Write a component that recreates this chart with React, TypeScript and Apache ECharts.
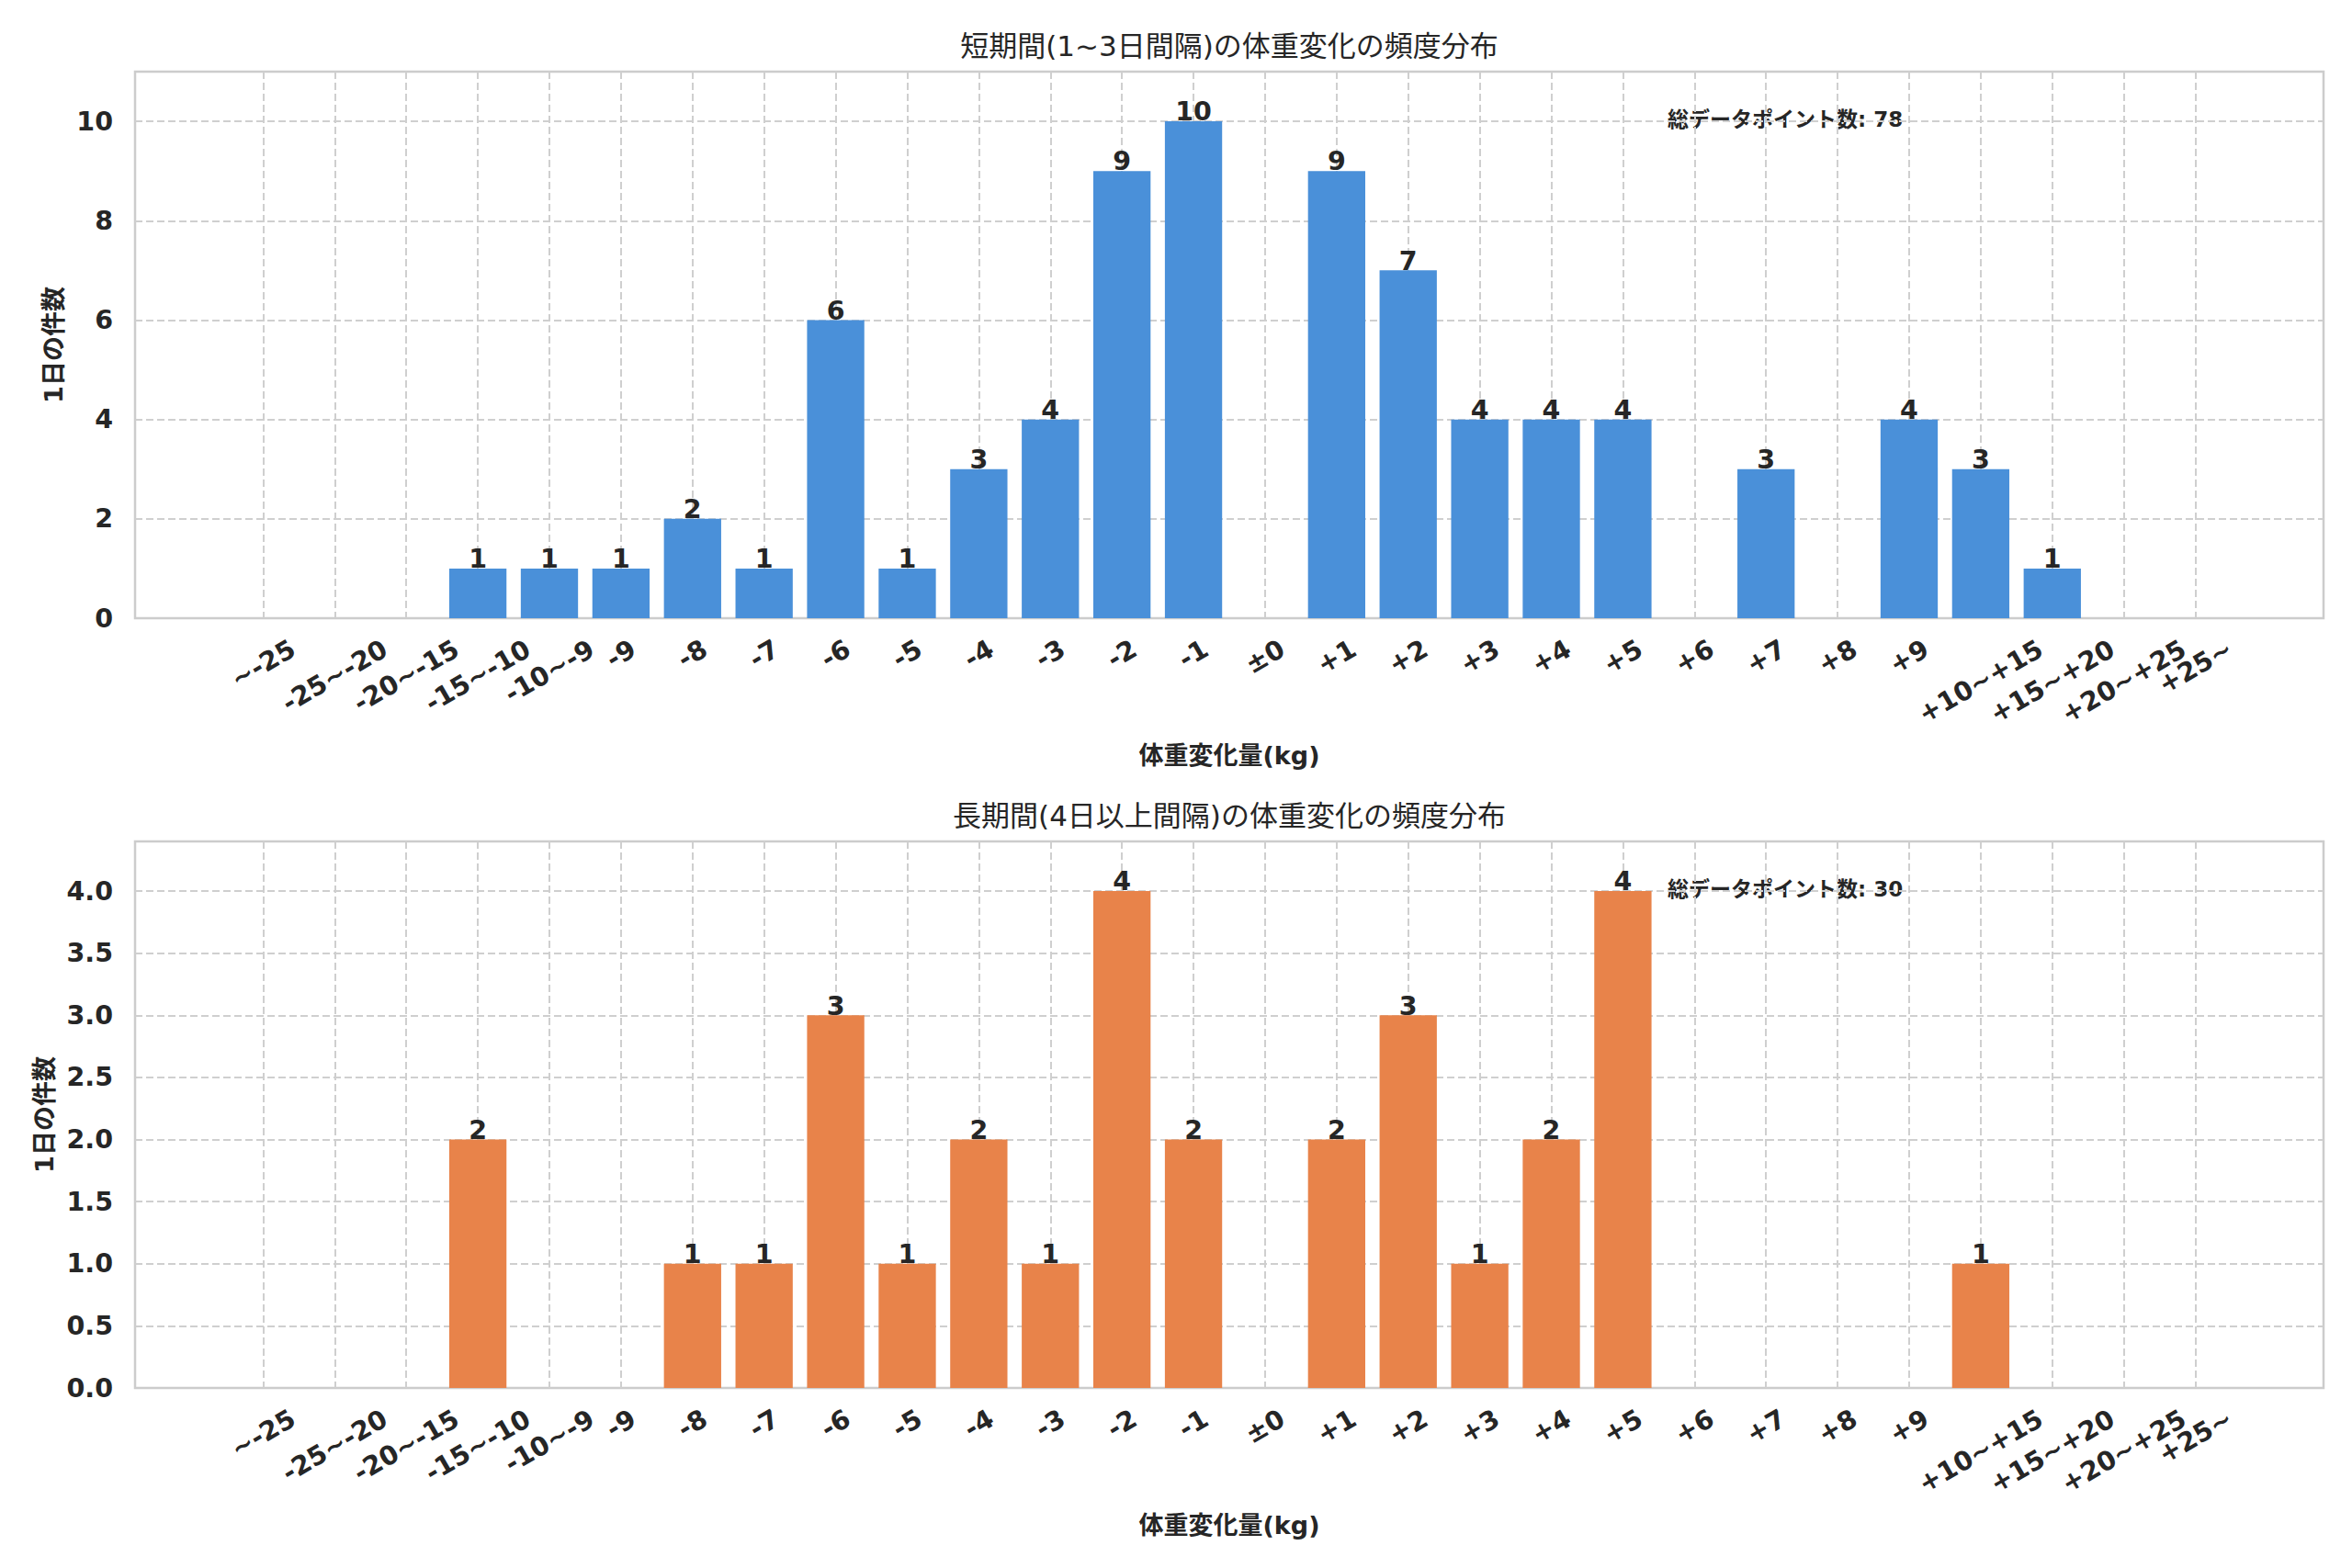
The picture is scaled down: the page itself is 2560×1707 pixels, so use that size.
import * as echarts from 'echarts';
import React, { useEffect, useRef } from 'react';

const categories = [
  '~-25', '-25~-20', '-20~-15', '-15~-10', '-10~-9', '-9', '-8', '-7', '-6', '-5',
  '-4', '-3', '-2', '-1', '±0', '+1', '+2', '+3', '+4', '+5', '+6', '+7', '+8', '+9',
  '+10~+15', '+15~+20', '+20~+25', '+25~',
];

// 1~3日間隔
const shortValues = [0, 0, 0, 1, 1, 1, 2, 1, 6, 1, 3, 4, 9, 10, 0, 9, 7, 4, 4, 4, 0, 3, 0, 4, 3, 1, 0, 0];
// 4日以上
const longValues = [0, 0, 0, 2, 0, 0, 1, 1, 3, 1, 2, 1, 4, 2, 0, 2, 3, 1, 2, 4, 0, 0, 0, 0, 1, 0, 0, 0];

const titles = ['短期間(1~3日間隔)の体重変化の頻度分布', '長期間(4日以上間隔)の体重変化の頻度分布'];
const colors = ['#4a90d9', '#e8834a'];
const yMaxes = [11, 4.4];
const yIntervals = [2, 0.5];

const FONT = '"DejaVu Sans", "Noto Sans CJK JP", sans-serif';
const TXT = '#262626';
const FS = 28.5;
const GRID_COLOR = '#cfcfcf';

// 枠
const FRAME_LEFT = 147;
const FRAME_W = 2382;
const PLOT_H = 595;
const TOPS = [78, 916];
// 棒の範囲 (matplotlibのマージンに合わせる)
const CAT = FRAME_W / ((categories.length - 1 + 0.8) * 1.1);
const BAR_LEFT = FRAME_LEFT + (0.4 + (categories.length - 1 + 0.8) * 0.05) * CAT;
const BAR_W = (categories.length - 1) * CAT;

const App: React.FC = () => {
  const chartRef = useRef<HTMLDivElement>(null);

  useEffect(() => {
    if (!chartRef.current) return;
    const instance = echarts.init(chartRef.current, null, { renderer: 'svg' });

    // 回転ラベルの上端をそろえるため、幅ごとにマージンを分ける
    const ctx = document.createElement('canvas').getContext('2d')!;
    ctx.font = `bold ${FS}px "DejaVu Sans"`;
    const margins = categories.map((c) => Math.round(22 + (ctx.measureText(c).width * 0.5 + 22 * 0.866) / 2));
    const marginGroups = Array.from(new Set(margins));

    const labelStyle = {
      fontSize: FS,
      fontWeight: 'bold',
      fontFamily: FONT,
      color: TXT,
    };

    const grids: any[] = [];
    const xAxes: any[] = [];
    const yAxes: any[] = [];
    const series: any[] = [];
    const graphics: any[] = [];

    [shortValues, longValues].forEach((values, k) => {
      const top = TOPS[k];
      const total = values.reduce((a, b) => a + b, 0);
      const frameGrid = grids.length;
      grids.push({
        left: FRAME_LEFT, top, width: FRAME_W, height: PLOT_H,
        show: true, borderColor: '#cccccc', borderWidth: 2.5, backgroundColor: 'transparent',
      });
      const barGrid = grids.length;
      grids.push({ left: BAR_LEFT, top, width: BAR_W, height: PLOT_H });

      xAxes.push({ type: 'value', gridIndex: frameGrid, min: 0, max: 1, show: false });
      const barX = xAxes.length;
      xAxes.push({
        type: 'category',
        gridIndex: barGrid,
        position: 'bottom',
        data: categories,
        boundaryGap: false,
        axisLine: { show: false },
        axisTick: { show: false },
        axisLabel: { show: false },
        splitLine: { show: true, interval: 0, lineStyle: { color: GRID_COLOR, type: [8, 4], width: 2 } },
        name: '体重変化量(kg)',
        nameLocation: 'middle',
        nameGap: 136,
        nameTextStyle: { ...labelStyle, fontSize: 27 },
      });
      marginGroups.forEach((m) => {
        xAxes.push({
          type: 'category',
          gridIndex: barGrid,
          position: 'bottom',
          offset: 0,
          data: categories,
          boundaryGap: false,
          axisLine: { show: false },
          axisTick: { show: false },
          splitLine: { show: false },
          axisLabel: {
            ...labelStyle,
            interval: 0,
            rotate: 30,
            align: 'center',
            verticalAlign: 'middle',
            margin: m,
            formatter: (v: string, i: number) => (margins[i] === m ? v : ''),
          },
        });
      });

      yAxes.push({
        type: 'value',
        gridIndex: frameGrid,
        min: 0,
        max: yMaxes[k],
        interval: yIntervals[k],
        axisLine: { show: false },
        axisTick: { show: false },
        axisLabel: {
          ...labelStyle,
          margin: 24,
          showMaxLabel: false,
          formatter: (v: number) => (k === 1 ? v.toFixed(1) : String(v)),
        },
        splitLine: {
          show: true,
          showMinLine: false,
          showMaxLine: false,
          lineStyle: { color: GRID_COLOR, type: [8, 4], width: 2 },
        },
        name: '1日の件数',
        nameLocation: 'middle',
        nameGap: 75,
        nameTextStyle: { ...labelStyle, fontSize: 27 },
      });
      const barY = yAxes.length;
      yAxes.push({ type: 'value', gridIndex: barGrid, min: 0, max: yMaxes[k], show: false });

      series.push({
        type: 'bar',
        xAxisIndex: barX,
        yAxisIndex: barY,
        data: values,
        barWidth: '80%',
        itemStyle: { color: colors[k] },
        label: {
          ...labelStyle,
          show: true,
          position: 'top',
          distance: -4,
          formatter: (p: any) => (p.value ? String(p.value) : ''),
        },
      });

      graphics.push({
        type: 'text',
        x: FRAME_LEFT + FRAME_W / 2,
        y: top - 28,
        style: {
          text: titles[k],
          align: 'center',
          verticalAlign: 'middle',
          fontSize: 31,
          fontFamily: FONT,
          fill: TXT,
        },
      });
      graphics.push({
        type: 'text',
        x: 1815,
        y: top + 52,
        style: {
          text: `総データポイント数: ${total}`,
          align: 'left',
          verticalAlign: 'middle',
          fontSize: 23,
          fontWeight: 'bold',
          fontFamily: FONT,
          fill: TXT,
        },
      });
    });

    instance.setOption({
      animation: false,
      backgroundColor: '#ffffff',
      grid: grids,
      xAxis: xAxes,
      yAxis: yAxes,
      series,
      graphic: graphics,
    });

    return () => {
      instance.dispose();
    };
  }, []);

  return (
    <div
      ref={chartRef}
      style={{ position: 'fixed', left: 0, top: 0, width: '100vw', height: '100vh' }}
    />
  );
};

export default App;
